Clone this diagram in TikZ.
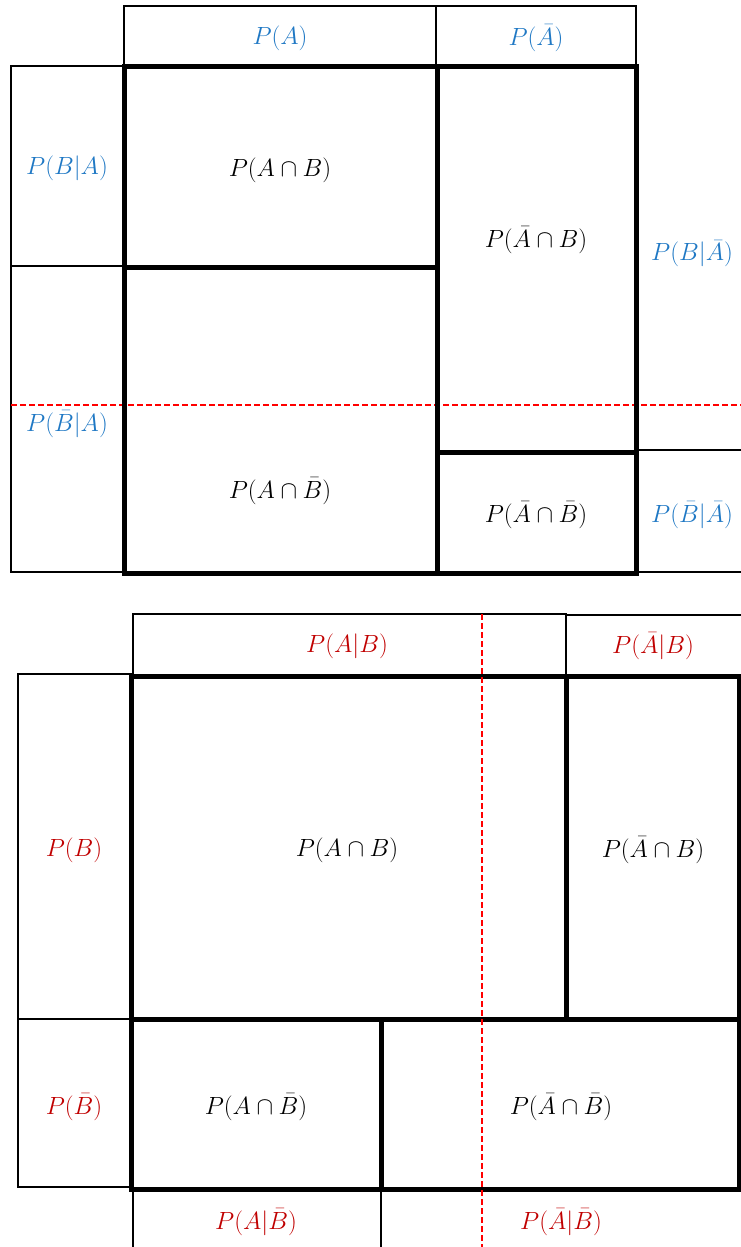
\documentclass[tikz,border=0pt]{standalone}
\usepackage{xcolor}
\definecolor{lblue}{HTML}{1F78C4}
\definecolor{lred}{HTML}{C00000}
\definecolor{dred}{HTML}{FF0000}
\begin{document}
\begin{tikzpicture}[x=1pt,y=-1pt,
  thinl/.style={line width=1.5pt},
  thickl/.style={line width=5pt},
  reddash/.style={draw=dred,line width=1.2pt,dash pattern=on 6pt off 3pt},
  lbl/.style={inner sep=0pt,font=\fontsize{24}{28}\selectfont},
  bl/.style={lbl,text=lblue},
  rl/.style={lbl,text=lred},
  kl/.style={lbl,text=black}]
\useasboundingbox (0,0) rectangle (741,1247);
% ---------- top diagram ----------
\draw[thinl] (124,6) rectangle (636,67);
\draw[thinl] (436,6) -- (436,67);
\draw[thinl] (11,66) rectangle (124,572);
\draw[thinl] (11,266) -- (124,266);
\draw[thinl] (636,450) -- (741,450);
\draw[thinl] (636,572) -- (741,572);
\draw[reddash] (11,405) -- (741,405);
\draw[thickl] (124,67) rectangle (636,573);
\draw[thickl] (124,267) -- (437,267);
\draw[thickl] (437,67) -- (437,573);
\draw[thickl] (437,452) -- (636,452);
\node[bl] (pa) at (280,38) {$P(A)$};
\node[bl] (pna) at (536,38) {$P(\bar{A})$};
\node[bl] (pba) at (67,168) {$P(B|A)$};
\node[kl] (ab1) at (280,170) {$P(A\cap B)$};
\node[kl] (nab1) at (536,240) {$P(\bar{A}\cap B)$};
\node[bl] (pbna) at (692,254) {$P(B|\bar{A})$};
\node[bl] (pnba) at (67,424) {$P(\bar{B}|A)$};
\node[kl] (anb1) at (280,491) {$P(A\cap \bar{B})$};
\node[kl] (nanb1) at (536,515) {$P(\bar{A}\cap \bar{B})$};
\node[bl] (pnbna) at (692,515) {$P(\bar{B}|\bar{A})$};
% ---------- bottom diagram ----------
\draw[thinl] (133,614) rectangle (566,675);
\draw[thinl] (566,615) -- (741,615);
\draw[thinl] (18,674) rectangle (131,1187);
\draw[thinl] (18,1019) -- (131,1019);
\draw[thinl] (133,1189) -- (133,1247);
\draw[thinl] (381,1189) -- (381,1247);
\draw[thickl] (131,676) rectangle (739,1189);
\draw[thickl] (131,1019) -- (741,1019);
\draw[thickl] (566,676) -- (566,1020);
\draw[thickl] (381,1019) -- (381,1189);
\draw[reddash] (482,614) -- (482,1247);
\node[rl] (pab) at (347,646) {$P(A|B)$};
\node[rl] (pnab) at (653,646) {$P(\bar{A}|B)$};
\node[rl] (pb) at (74,850) {$P(B)$};
\node[kl] (ab2) at (347,850) {$P(A\cap B)$};
\node[kl] (nab2) at (653,850) {$P(\bar{A}\cap B)$};
\node[rl] (pnb) at (74,1107) {$P(\bar{B})$};
\node[kl] (anb2) at (256,1107) {$P(A\cap \bar{B})$};
\node[kl] (nanb2) at (561,1107) {$P(\bar{A}\cap \bar{B})$};
\node[rl] (panb) at (256,1222) {$P(A|\bar{B})$};
\node[rl] (pnanb) at (561,1222) {$P(\bar{A}|\bar{B})$};
\end{tikzpicture}
\end{document}
